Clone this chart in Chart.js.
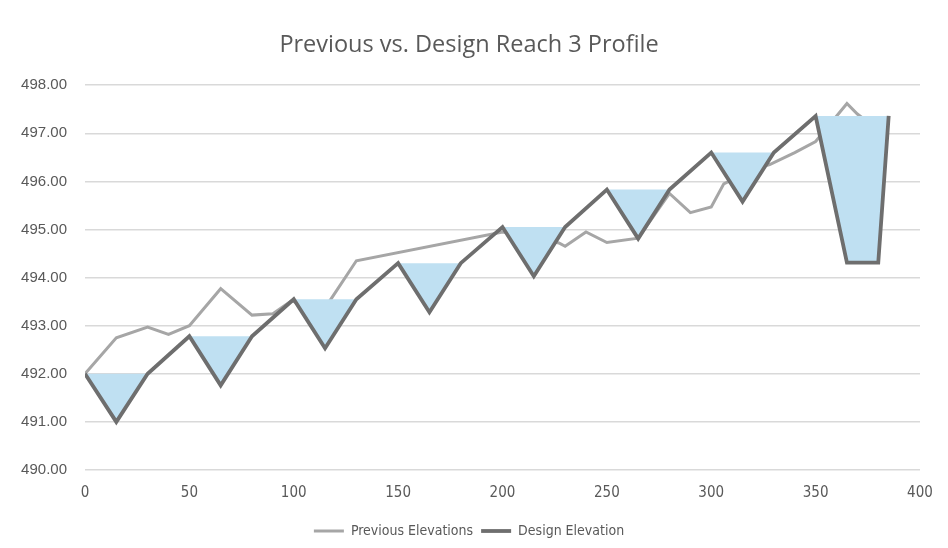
<!DOCTYPE html>
<html>
<head>
<meta charset="utf-8">
<script src="https://cdn.jsdelivr.net/npm/chart.js@4/dist/chart.umd.min.js"></script>
<style>
  html, body { margin: 0; padding: 0; background: #fff; }
  #wrap { width: 948px; height: 548px; }
</style>
</head>
<body>
<div id="wrap"><canvas id="profile"></canvas></div>
<script>
/* Previous vs. Design Reach 3 Profile */

const TITLE = "Previous vs. Design Reach 3 Profile";

// design profile (pools and riffles)
const designX = [0, 15, 30, 50, 65, 80, 100, 115, 130, 150, 165, 180, 200, 215, 230, 250, 265, 280, 300, 315, 330, 350, 365, 380, 385];
const designY = [492.00, 491.00, 492.00, 492.78, 491.76, 492.78, 493.55, 492.53, 493.55, 494.30, 493.28, 494.30,
                 495.05, 494.03, 495.05, 495.83, 494.81, 495.83, 496.60, 495.58, 496.60, 497.36, 494.31, 494.31, 497.36];

// existing ground
const prevX = [0, 15, 30, 40, 50, 65, 80, 90, 99, 108, 117, 130, 200, 215, 227, 230, 240, 250, 265, 280, 290, 300, 306, 320, 328, 340, 350, 365, 370, 376, 385];
const prevY = [492.00, 492.75, 492.97, 492.82, 493.00, 493.77, 493.22, 493.25, 493.52, 493.35, 493.50, 494.35, 494.95, 494.85,
               494.72, 494.65, 494.95, 494.73, 494.82, 495.75, 495.35, 495.47, 495.95, 496.25, 496.35, 496.60, 496.83, 497.62, 497.40, 497.20, 497.10];

// pools = index ranges in the design series (rim, bottom, rim)
const pools = [[0, 2], [3, 5], [6, 8], [9, 11], [12, 14], [15, 17], [18, 20], [21, 24]];

const xTicks = [0, 50, 100, 150, 200, 250, 300, 350, 400];
const yTicks = [490, 491, 492, 493, 494, 495, 496, 497, 498];

const TXT   = "#595959";
const GRID  = "#d9d9d9";
const FILL  = "#bfe0f2";
const NARROW = "'DejaVu Sans', sans-serif";

function pts(xs, ys) {
  return xs.map((x, i) => ({ x, y: ys[i] }));
}

const datasets = [
  {
    label: "Previous Elevations",
    data: pts(prevX, prevY),
    borderColor: "#a6a6a6",
    backgroundColor: "#a6a6a6",
    borderWidth: 3,
    pointRadius: 0,
    fill: false,
    order: 3
  },
  {
    label: "Design Elevation",
    data: pts(designX, designY),
    borderColor: "#6e6e6e",
    backgroundColor: "#6e6e6e",
    borderWidth: 3.8,
    pointRadius: 0,
    fill: false,
    order: 1
  }
];

pools.forEach(([a, b]) => {
  datasets.push({
    label: "",
    data: pts(designX.slice(a, b + 1), designY.slice(a, b + 1)),
    borderWidth: 0,
    borderColor: "rgba(0,0,0,0)",
    backgroundColor: FILL,
    pointRadius: 0,
    fill: { value: designY[a] },
    order: 2
  });
});

new Chart(document.getElementById("profile"), {
  type: "line",
  data: { datasets },
  options: {
    responsive: true,
    maintainAspectRatio: false,
    animation: false,
    layout: { padding: { left: 18, right: 28, top: 0, bottom: 0 } },
    plugins: {
      title: {
        display: true,
        text: TITLE,
        color: TXT,
        font: { family: "'Open Sans', sans-serif", size: 23.5, weight: "normal" },
        padding: { top: 31, bottom: 26 }
      },
      legend: {
        position: "bottom",
        labels: {
          filter: item => !!item.text,
          sort: (a, b) => a.datasetIndex - b.datasetIndex,
          usePointStyle: true,
          pointStyle: "line",
          pointStyleWidth: 30,
          color: TXT,
          font: { family: NARROW, size: 14, weight: "normal condensed" },
          padding: 8
        }
      },
      tooltip: { enabled: false }
    },
    scales: {
      x: {
        type: "linear",
        min: 0,
        max: 400,
        afterBuildTicks: s => { s.ticks = xTicks.map(v => ({ value: v })); },
        grid: { display: false, drawTicks: false },
        border: { display: false },
        ticks: {
          color: TXT,
          padding: 14,
          font: { family: NARROW, size: 15, weight: "normal condensed" }
        }
      },
      y: {
        min: 490,
        max: 498,
        afterBuildTicks: s => { s.ticks = yTicks.map(v => ({ value: v })); },
        afterFit: s => { s.width = 67; },
        grid: { color: GRID, lineWidth: 1.5, drawTicks: false },
        border: { display: false },
        ticks: {
          color: TXT,
          padding: 18,
          font: { family: "'Liberation Sans', Arial, sans-serif", size: 15 },
          callback: v => Number(v).toFixed(2)
        }
      }
    }
  }
});
</script>
</body>
</html>
